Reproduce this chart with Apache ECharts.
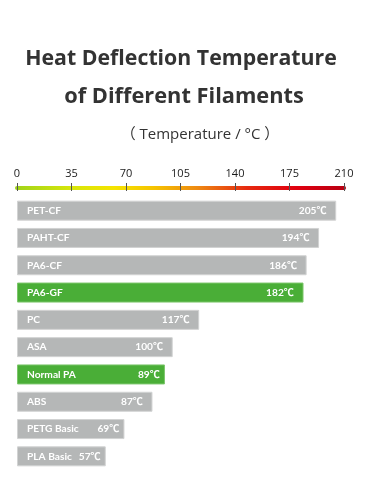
<!DOCTYPE html>
<html>
<head>
<meta charset="utf-8">
<script src="https://cdn.jsdelivr.net/npm/echarts@6/dist/echarts.min.js"></script>
<style>
html,body{margin:0;padding:0;background:#fff;}
#c{width:367px;height:500px;}
</style>
</head>
<body>
<div id="c"></div>
<script>
const categories = ['PET-CF','PAHT-CF','PA6-CF','PA6-GF','PC','ASA','Normal PA','ABS','PETG Basic','PLA Basic'];
// printed temperatures (labels)
const labelValues = [205,194,186,182,117,100,89,87,69,57];
// bar lengths as drawn in the reference picture
const barLengths = [205,194,186,184,117,100,95,87,69,57];
const highlighted = ['PA6-GF','Normal PA'];
const tickValues = [0,35,70,105,140,175,210];
const titleLines = ['Heat Deflection Temperature','of Different Filaments'];
const unitText = '（ Temperature / °C ）';

// categories whose value label sits closer to the bar end
const tightLabels = ['Normal PA','PETG Basic','PLA Basic'];

const FONT = '"Open Sans","Noto Sans","Noto Sans CJK SC",sans-serif';
const BAR_FONT = 'Lato,"Open Sans","Noto Sans CJK SC",sans-serif';
const chart = echarts.init(document.getElementById('c'), null, {renderer:'canvas'});

const data = barLengths.map((v,i)=>{
  const hi = highlighted.includes(categories[i]);
  return {
    value: v,
    labelText: labelValues[i] + '℃',
    label: {distance: tightLabels.includes(categories[i]) ? 5 : 9.5},
    itemStyle: {
      color: hi ? '#4aae37' : '#b5b7b7',
      borderColor: hi ? '#7cc66b' : '#d2d3d3',
      borderWidth: 1
    }
  };
});

const axisCommon = {
  type:'value', position:'top', min:0, max:210, interval:35, offset:9
};

chart.setOption({
  animation:false,
  graphic:[
    {type:'text', x:181, y:59, style:{text:titleLines[0], textAlign:'center', textVerticalAlign:'middle',
      font:'bold 21.3px ' + FONT, fill:'#333'}},
    {type:'text', x:184, y:97, style:{text:titleLines[1], textAlign:'center', textVerticalAlign:'middle',
      font:'bold 21.8px ' + FONT, fill:'#333'}},
    {type:'text', x:200, y:135, style:{text:unitText, textAlign:'center', textVerticalAlign:'middle',
      font:'15px ' + FONT, fill:'#333'}}
  ],
  grid:{left:17, right:23, top:197, bottom:30, containLabel:false},
  xAxis:[
    Object.assign({}, axisCommon, {
      axisLine:{show:true, lineStyle:{width:4, color:new echarts.graphic.LinearGradient(0,0,1,0,[
        {offset:0, color:'#9fd31b'},
        {offset:0.17, color:'#d6e60a'},
        {offset:0.3, color:'#f5e400'},
        {offset:0.42, color:'#f5c300'},
        {offset:0.55, color:'#ee8a12'},
        {offset:0.7, color:'#e62a10'},
        {offset:0.85, color:'#e00010'},
        {offset:1, color:'#b70012'}
      ])}},
      axisTick:{show:true, length:5, lineStyle:{color:'#555', width:1}},
      axisLabel:{show:true, margin:9, color:'#1a1a1a', fontSize:11, fontFamily:FONT,
        formatter:(v)=> tickValues.includes(v) ? String(v) : ''},
      splitLine:{show:false}
    }),
    Object.assign({}, axisCommon, {
      axisLine:{show:false},
      axisTick:{show:true, inside:true, length:3, lineStyle:{color:'#555', width:1}},
      axisLabel:{show:false},
      splitLine:{show:false}
    })
  ],
  yAxis:{
    type:'category', data:categories, inverse:true, z:10,
    axisLine:{show:false}, axisTick:{show:false},
    axisLabel:{inside:true, margin:10, color:'#fff', fontWeight:'bold', fontSize:10.2, fontFamily:BAR_FONT, align:'left'}
  },
  series:[{
    type:'bar', data:data, barWidth:20, xAxisIndex:0,
    label:{show:true, position:'insideRight', color:'#fff', fontWeight:'bold', fontSize:10.2,
      fontFamily:BAR_FONT, formatter:(p)=>p.data.labelText}
  }]
});
</script>
</body>
</html>
